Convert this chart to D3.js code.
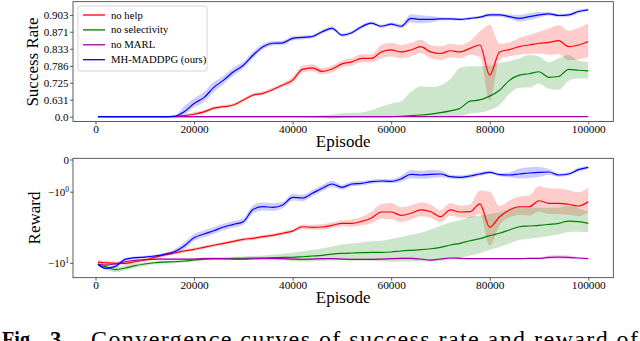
<!DOCTYPE html>
<html>
<head>
<meta charset="utf-8">
<script src="https://cdn.jsdelivr.net/npm/d3@7"></script>
<style>
  body { margin: 0; background: #fff; }
  svg text, svg tspan { font-family: "Liberation Serif", "Times New Roman", serif !important; fill: #000; }
</style>
</head>
<body>
<svg id="chart" width="640" height="341"></svg>
<script>
// episodes (x grid shared by every run)
const episodes = [500, 2000, 4000, 6000, 8000, 10000, 12000, 14000, 16000, 18000,
  20000, 22000, 24000, 26000, 28000, 30000, 32000, 34000, 36000, 38000,
  40000, 42000, 44000, 46000, 48000, 50000, 52000, 54000, 56000, 58000,
  60000, 62000, 64000, 66000, 68000, 70000, 72000, 74000, 76000, 78000,
  80000, 82000, 84000, 86000, 88000, 90000, 92000, 94000, 96000, 98000, 100000];

const methods = ["no help", "no selectivity", "no MARL", "MH-MADDPG (ours)"];
const xTicks = [0, 20000, 40000, 60000, 80000, 100000];
const successTicks = [0, 0.631, 0.725, 0.786, 0.833, 0.871, 0.903];
const successTickLabels = ["0.0", "0.631", "0.725", "0.786", "0.833", "0.871", "0.903"];
const rewardTicks = [0, -1, -10];

// success rate, mean
const successNoHelp = [0, 0, 0, 0, 0, 0, 0, 0, 0.30, 0.36,
  0.43, 0.49, 0.55, 0.568, 0.586, 0.629, 0.663, 0.673, 0.694, 0.715,
  0.736, 0.775, 0.780, 0.768, 0.776, 0.792, 0.798, 0.808, 0.808, 0.825,
  0.830, 0.825, 0.830, 0.838, 0.825, 0.821, 0.828, 0.825, 0.834, 0.842,
  0.755, 0.825, 0.831, 0.838, 0.842, 0.846, 0.848, 0.852, 0.838, 0.842, 0.850];
const successNoSel = [0, 0, 0, 0, 0, 0, 0, 0, 0, 0,
  0, 0, 0, 0, 0, 0, 0, 0, 0, 0,
  0, 0, 0, 0, 0, 0.05, 0.08, 0.10, 0.15, 0.20,
  0.25, 0.30, 0.36, 0.40, 0.436, 0.473, 0.51, 0.55, 0.62, 0.63,
  0.656, 0.69, 0.735, 0.755, 0.76, 0.767, 0.747, 0.75, 0.775, 0.772, 0.770];
const successNoMarl = [0, 0, 0, 0, 0, 0, 0, 0, 0, 0,
  0, 0, 0, 0, 0, 0, 0, 0, 0, 0,
  0, 0, 0, 0, 0, 0, 0, 0, 0, 0,
  0, 0, 0, 0, 0, 0, 0, 0, 0, 0,
  0, 0, 0, 0, 0, 0, 0, 0, 0, 0, 0];
const successOurs = [0, 0, 0, 0, 0, 0, 0, 0, 0.30, 0.494,
  0.601, 0.646, 0.704, 0.736, 0.767, 0.788, 0.817, 0.838, 0.846, 0.847,
  0.857, 0.859, 0.861, 0.871, 0.878, 0.864, 0.869, 0.881, 0.888, 0.882,
  0.886, 0.882, 0.897, 0.895, 0.895, 0.896, 0.896, 0.895, 0.897, 0.899,
  0.903, 0.903, 0.900, 0.897, 0.900, 0.903, 0.905, 0.902, 0.903, 0.909, 0.912];

// success rate, spread
const successNoHelpStd = [0, 0, 0, 0, 0, 0, 0, 0, 0.02, 0.05,
  0.057, 0.034, 0.021, 0.019, 0.017, 0.0125, 0.01, 0.01, 0.009, 0.008,
  0.013, 0.011, 0.011, 0.011, 0.011, 0.01, 0.011, 0.011, 0.011, 0.017,
  0.017, 0.017, 0.017, 0.016, 0.017, 0.018, 0.017, 0.017, 0.017, 0.03,
  0.13, 0.02, 0.017, 0.02, 0.022, 0.025, 0.03, 0.032, 0.035, 0.037, 0.038];
const successNoSelStd = [0, 0, 0, 0, 0, 0, 0, 0, 0, 0,
  0, 0, 0, 0, 0, 0, 0, 0, 0, 0,
  0.25, 0.3, 0.35, 0.38, 0.42, 0.41, 0.39, 0.38, 0.37, 0.37,
  0.35, 0.32, 0.32, 0.31, 0.27, 0.24, 0.23, 0.23, 0.165, 0.155,
  0.13, 0.105, 0.065, 0.053, 0.057, 0.046, 0.05, 0.058, 0.042, 0.03, 0.028];
const successNoMarlStd = [0, 0, 0, 0, 0, 0, 0, 0, 0, 0,
  0, 0, 0, 0, 0, 0, 0, 0, 0, 0,
  0, 0, 0, 0, 0, 0, 0, 0, 0, 0,
  0, 0, 0, 0, 0, 0, 0, 0, 0, 0,
  0, 0, 0, 0, 0, 0, 0, 0, 0, 0, 0];
const successOursStd = [0, 0, 0, 0, 0, 0, 0, 0, 0.05, 0.08,
  0.04, 0.034, 0.024, 0.016, 0.0136, 0.01, 0.009, 0.0064, 0.005, 0.005,
  0.0045, 0.0043, 0.004, 0.004, 0.004, 0.0035, 0.0035, 0.0035, 0.003, 0.003,
  0.003, 0.004, 0.0074, 0.0074, 0.006, 0.003, 0.0025, 0.0025, 0.0025, 0.0025,
  0.003, 0.003, 0.004, 0.006, 0.006, 0.005, 0.003, 0.003, 0.003, 0.003, 0.002];

// reward, mean
const rewardNoHelp = [-9.78, -9.97, -10.13, -10.13, -9.70, -9.26, -8.60, -8.07, -7.63, -7.22,
  -6.88, -6.50, -6.14, -5.80, -5.48, -5.18, -5.02, -4.79, -4.60, -4.33,
  -4.05, -3.55, -3.61, -3.58, -3.40, -3.19, -3.19, -3.00, -2.69, -2.20,
  -2.20, -2.46, -2.30, -2.05, -2.18, -2.58, -2.05, -2.20, -2.18, -1.65,
  -3.60, -2.58, -2.05, -1.83, -1.83, -1.46, -1.61, -1.61, -1.67, -1.78, -1.52];
const rewardNoSel = [-10.61, -11.1, -12.0, -11.5, -10.8, -10.32, -9.97, -9.78, -9.70, -9.51,
  -9.26, -9.01, -8.93, -8.93, -8.84, -8.84, -8.76, -8.76, -8.69, -8.60,
  -8.60, -8.46, -8.29, -8.14, -7.85, -7.70, -7.63, -7.57, -7.48, -7.48,
  -7.42, -7.22, -7.08, -6.96, -6.77, -6.50, -6.09, -5.80, -5.39, -5.08,
  -4.65, -4.33, -3.92, -3.55, -3.47, -3.40, -3.30, -3.19, -2.97, -3.03, -3.19];
const rewardNoMarl = [-10.42, -10.61, -10.32, -9.70, -9.33, -9.17, -9.08, -9.01, -9.01, -9.01,
  -9.01, -8.93, -8.93, -8.93, -9.01, -9.01, -8.93, -8.84, -8.84, -8.93,
  -9.01, -9.08, -9.01, -8.93, -8.93, -9.01, -9.08, -9.08, -9.08, -9.01,
  -8.93, -8.84, -8.84, -9.01, -9.26, -9.01, -8.76, -8.84, -8.93, -8.93,
  -8.93, -8.93, -8.93, -8.93, -8.84, -8.84, -8.60, -8.53, -8.60, -8.76, -8.93];
const rewardOurs = [-10.3, -11.6, -11.0, -9.1, -8.69, -8.53, -8.29, -7.91, -7.36, -6.27,
  -4.94, -4.43, -4.01, -3.58, -3.30, -3.03, -2.005, -1.827, -1.867, -1.717,
  -1.273, -1.31, -1.074, -0.852, -0.683, -0.811, -0.683, -0.657, -0.599, -0.575,
  -0.587, -0.507, -0.362, -0.382, -0.362, -0.353, -0.434, -0.453, -0.412, -0.353,
  -0.304, -0.373, -0.382, -0.353, -0.324, -0.304, -0.296, -0.382, -0.353, -0.234, -0.174];

// reward, spread
const rewardNoHelpStd = [0.5, 0.5, 0.5, 0.5, 0.45, 0.4, 0.4, 0.37, 0.35, 0.33,
  0.3, 0.3, 0.28, 0.27, 0.25, 0.25, 0.24, 0.24, 0.23, 0.22,
  0.22, 0.25, 0.28, 0.3, 0.3, 0.3, 0.37, 0.4, 0.5, 0.55,
  0.6, 0.6, 0.55, 0.5, 0.5, 0.5, 0.45, 0.45, 0.5, 0.7,
  2.6, 0.8, 0.6, 0.6, 0.65, 0.7, 0.75, 0.75, 0.75, 0.75, 0.7];
const rewardNoSelStd = [0.5, 0.8, 0.9, 0.8, 0.6, 0.5, 0.4, 0.4, 0.4, 0.4,
  0.4, 0.4, 0.4, 0.4, 0.4, 0.45, 0.5, 0.6, 0.7, 0.8,
  1.0, 1.2, 1.3, 1.4, 1.5, 1.7, 1.8, 1.9, 2.0, 2.1,
  2.3, 2.4, 2.55, 2.7, 2.9, 3.05, 3.0, 2.9, 2.8, 2.6,
  2.3, 2.1, 1.9, 1.7, 1.6, 1.5, 1.4, 1.3, 1.2, 1.1, 1.0];
const rewardNoMarlStd = [0.2, 0.2, 0.2, 0.2, 0.2, 0.2, 0.2, 0.2, 0.2, 0.2,
  0.2, 0.2, 0.2, 0.2, 0.2, 0.2, 0.2, 0.2, 0.2, 0.2,
  0.2, 0.2, 0.2, 0.2, 0.2, 0.2, 0.2, 0.2, 0.2, 0.2,
  0.2, 0.2, 0.2, 0.2, 0.2, 0.2, 0.2, 0.2, 0.2, 0.2,
  0.2, 0.2, 0.2, 0.2, 0.2, 0.2, 0.4, 0.4, 0.4, 0.2, 0.2];
const rewardOursStd = [0.3, 0.4, 0.5, 0.4, 0.3, 0.3, 0.3, 0.35, 0.5, 0.6,
  0.5, 0.45, 0.4, 0.37, 0.34, 0.32, 0.28, 0.26, 0.26, 0.2,
  0.17, 0.17, 0.15, 0.13, 0.12, 0.1, 0.09, 0.08, 0.07, 0.07,
  0.07, 0.1, 0.12, 0.12, 0.12, 0.1, 0.06, 0.06, 0.06, 0.06,
  0.05, 0.05, 0.08, 0.14, 0.15, 0.14, 0.08, 0.05, 0.05, 0.05, 0.04];

const colors = ["#ff0000", "#008000", "#a800a8", "#0000ff"];

const svg = d3.select("#chart");

const x = d3.scaleLinear().domain([-4570, 105080]).range([73, 613.3]);
// success axis is stretched like v^5, reward axis is symlog
const ySucc = d3.scalePow().exponent(5).domain([-0.490, 0.9254]).range([121.5, 1.7]);
const yRew = d3.scaleSymlog().constant(0.8).domain([-14.9, 0.0245]).range([277.7, 158.3]);

function styleAxis(ax, size) {
  ax.attr("font-family", null).attr("font-size", null);
  ax.select(".domain").remove();
  ax.selectAll("line").attr("stroke", "#333").attr("stroke-width", 0.8);
  ax.selectAll("text").style("font-size", size + "px");
}

function drawPanel(id, y, means, stds) {
  const top = y.range()[1], bottom = y.range()[0];
  const left = x.range()[0], right = x.range()[1];

  svg.append("clipPath").attr("id", id)
    .append("rect").attr("x", left).attr("y", top)
    .attr("width", right - left).attr("height", bottom - top);

  const g = svg.append("g").attr("clip-path", "url(#" + id + ")");

  means.forEach((m, k) => {
    const rows = episodes.map((e, i) => ({e: e, m: m[i], s: stds[k][i]}));
    const area = d3.area()
      .x(d => x(d.e))
      .y0(d => y(d.m - d.s))
      .y1(d => y(d.m + d.s))
      .curve(d3.curveMonotoneX);
    g.append("path").datum(rows)
      .attr("d", area)
      .attr("fill", colors[k])
      .attr("fill-opacity", 0.2)
      .attr("stroke", "none");
  });

  means.forEach((m, k) => {
    const rows = episodes.map((e, i) => ({e: e, m: m[i]}));
    const line = d3.line()
      .x(d => x(d.e))
      .y(d => y(d.m))
      .curve(d3.curveMonotoneX);
    g.append("path").datum(rows)
      .attr("d", line)
      .attr("fill", "none")
      .attr("stroke", colors[k])
      .attr("stroke-width", 1.2);
  });

  // x axis
  const xa = svg.append("g").attr("transform", "translate(0," + bottom + ")")
    .call(d3.axisBottom(x).tickValues(xTicks).tickSize(3).tickPadding(0).tickFormat(d3.format("d")));
  styleAxis(xa, 11.3);

  svg.append("text")
    .attr("x", (left + right) / 2).attr("y", bottom + 25.5)
    .attr("text-anchor", "middle").style("font-size", "17px")
    .text("Episode");

  svg.append("rect")
    .attr("x", left).attr("y", top)
    .attr("width", right - left).attr("height", bottom - top)
    .attr("fill", "none").attr("stroke", "#333").attr("stroke-width", 0.8);
}

drawPanel("clipTop", ySucc,
  [successNoHelp, successNoSel, successNoMarl, successOurs],
  [successNoHelpStd, successNoSelStd, successNoMarlStd, successOursStd]);

drawPanel("clipBottom", yRew,
  [rewardNoHelp, rewardNoSel, rewardNoMarl, rewardOurs],
  [rewardNoHelpStd, rewardNoSelStd, rewardNoMarlStd, rewardOursStd]);

// y axis of success rate
const ya = svg.append("g").attr("transform", "translate(73,0)")
  .call(d3.axisLeft(ySucc).tickValues(successTicks).tickSize(3).tickPadding(1.5)
    .tickFormat((d, i) => successTickLabels[i]));
styleAxis(ya, 11);

// y axis of reward, with -10^n labels
const yb = svg.append("g").attr("transform", "translate(73,0)")
  .call(d3.axisLeft(yRew).tickValues(rewardTicks).tickSize(3).tickPadding(1)
    .tickFormat(() => ""));
styleAxis(yb, 11);
yb.selectAll(".tick text").each(function(d) {
  const t = d3.select(this);
  if (d === 0) { t.text("0"); return; }
  t.append("tspan").text("\u221210");
  t.append("tspan").style("font-size", "7.5px").attr("dy", "-0.55em")
    .text(String(Math.round(Math.log10(-d))));
});

svg.append("text")
  .attr("transform", "translate(38,62) rotate(-90)")
  .attr("text-anchor", "middle").style("font-size", "17px")
  .text("Success Rate");

svg.append("text")
  .attr("transform", "translate(40,218) rotate(-90)")
  .attr("text-anchor", "middle").style("font-size", "17px")
  .text("Reward");

// legend
const legend = svg.append("g");
legend.append("rect")
  .attr("x", 78).attr("y", 6).attr("width", 129).attr("height", 65)
  .attr("rx", 2).attr("fill", "#fff").attr("fill-opacity", 0.8)
  .attr("stroke", "#cccccc").attr("stroke-width", 0.8);
methods.forEach((name, k) => {
  const ry = 15 + k * 14.9;
  legend.append("line")
    .attr("x1", 83).attr("x2", 105).attr("y1", ry).attr("y2", ry)
    .attr("stroke", colors[k]).attr("stroke-width", 1.3);
  legend.append("text")
    .attr("x", 111).attr("y", ry).attr("dy", "0.33em")
    .style("font-size", "10.7px")
    .text(name);
});

// caption (cut off by the bottom edge)
svg.append("text").attr("x", 2).attr("y", 347)
  .style("font-size", "23px").style("font-weight", "bold")
  .attr("textLength", 33).attr("lengthAdjust", "spacingAndGlyphs")
  .text("Fig.");
svg.append("text").attr("x", 50).attr("y", 347)
  .style("font-size", "23px").style("font-weight", "bold")
  .attr("textLength", 17).attr("lengthAdjust", "spacingAndGlyphs")
  .text("3.");
svg.append("text").attr("x", 91).attr("y", 347)
  .style("font-size", "24px")
  .attr("textLength", 547).attr("lengthAdjust", "spacing")
  .text("Convergence curves of success rate and reward of");
</script>
</body>
</html>
